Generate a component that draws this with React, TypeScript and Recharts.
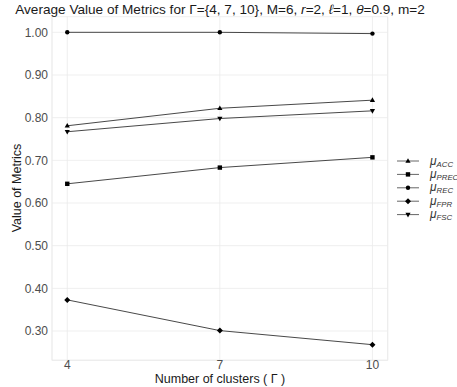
import React from 'react';
import { LineChart, Line, XAxis, YAxis, CartesianGrid, ReferenceLine } from 'recharts';

const clusters = [4, 7, 10];
const accValues = [0.781, 0.822, 0.841];
const precValues = [0.645, 0.683, 0.707];
const recValues = [1.0, 1.0, 0.997];
const fprValues = [0.373, 0.301, 0.268];
const fscValues = [0.767, 0.798, 0.816];
const yTicks = [0.3, 0.4, 0.5, 0.6, 0.7, 0.8, 0.9, 1.0];

const series = [
  { key: 'acc', label: 'ACC', shape: 'up', values: accValues },
  { key: 'prec', label: 'PREC', shape: 'square', values: precValues },
  { key: 'rec', label: 'REC', shape: 'circle', values: recValues },
  { key: 'fpr', label: 'FPR', shape: 'diamond', values: fprValues },
  { key: 'fsc', label: 'FSC', shape: 'down', values: fscValues },
];

const data = clusters.map((c, i) => {
  const row: any = { clusters: c };
  series.forEach(s => { row[s.key] = s.values[i]; });
  return row;
});

// ggplot-style 5% expansion
const allValues = series.flatMap(s => s.values);
const yMin = Math.min(...allValues);
const yMax = Math.max(...allValues);
const yPad = (yMax - yMin) * 0.05;
const yDomain = [yMin - yPad, yMax + yPad];
const xPad = (clusters[clusters.length - 1] - clusters[0]) * 0.05;
const xDomain = [clusters[0] - xPad, clusters[clusters.length - 1] + xPad];

const FONT = '"Liberation Sans", Arial, sans-serif';

function Marker({ cx, cy, shape }: { cx: number; cy: number; shape: string }) {
  if (cx == null || cy == null) return null;
  if (shape === 'up') {
    return <polygon points={`${cx},${cy - 2.8} ${cx - 2.6},${cy + 1.8} ${cx + 2.6},${cy + 1.8}`} fill="#000" />;
  }
  if (shape === 'down') {
    return <polygon points={`${cx},${cy + 2.8} ${cx - 2.6},${cy - 1.8} ${cx + 2.6},${cy - 1.8}`} fill="#000" />;
  }
  if (shape === 'square') {
    return <rect x={cx - 2.2} y={cy - 2.2} width={4.4} height={4.4} fill="#000" />;
  }
  if (shape === 'diamond') {
    return <polygon points={`${cx},${cy - 3} ${cx + 3},${cy} ${cx},${cy + 3} ${cx - 3},${cy}`} fill="#000" />;
  }
  return <circle cx={cx} cy={cy} r={2.2} fill="#000" />;
}

function LegendBox() {
  return (
    <svg width={60} height={72} style={{ display: 'block' }}>
      {series.map((s, i) => {
        const y = 7 + i * 13.4;
        return (
          <g key={s.key}>
            <line x1={0} x2={22} y1={y} y2={y} stroke="#666" strokeWidth={1} />
            <Marker cx={11} cy={y} shape={s.shape} />
            <text x={33} y={y + 3.5} fontFamily={FONT} fontStyle="italic" fill="#333">
              <tspan fontSize={12}>μ</tspan>
              <tspan fontSize={7.8} dy={2}>{s.label}</tspan>
            </text>
          </g>
        );
      })}
    </svg>
  );
}

export default function App() {
  return (
    <div style={{ position: 'absolute', left: 0, top: 0, width: 457, height: 387, background: '#fff', fontFamily: FONT }}>
      <LineChart width={457} height={387} data={data} margin={{ top: 16.7, right: 69.3, bottom: 0, left: 0 }}>
        <CartesianGrid stroke="#ebebeb" strokeWidth={0.8} />
        <ReferenceLine x={xDomain[0]} stroke="#ebebeb" strokeWidth={0.8} />
        <ReferenceLine x={xDomain[1]} stroke="#ebebeb" strokeWidth={0.8} />
        <ReferenceLine y={yDomain[0]} stroke="#ebebeb" strokeWidth={0.8} />
        <XAxis
          dataKey="clusters"
          type="number"
          domain={xDomain}
          ticks={clusters}
          height={26.7}
          axisLine={false}
          tickLine={false}
          tickSize={0}
          tickMargin={0}
          tick={{ fill: '#4d4d4d', fontSize: 12, fontFamily: FONT }}
        />
        <YAxis
          type="number"
          domain={yDomain}
          ticks={yTicks}
          width={52}
          axisLine={false}
          tickLine={false}
          tickSize={0}
          tickMargin={4}
          tickFormatter={(v: number) => v.toFixed(2)}
          tick={{ fill: '#4d4d4d', fontSize: 12, fontFamily: FONT }}
        />
        {series.map(s => (
          <Line
            key={s.key}
            dataKey={s.key}
            stroke="#333"
            strokeWidth={0.9}
            isAnimationActive={false}
            dot={(p: any) => <Marker key={`${s.key}-${p.index}`} cx={p.cx} cy={p.cy} shape={s.shape} />}
            activeDot={false}
          />
        ))}
      </LineChart>
      <div style={{ position: 'absolute', left: 0, width: 440, top: 2, textAlign: 'center', fontSize: 13.6, color: '#1a1a1a', whiteSpace: 'nowrap' }}>
        Average Value of Metrics for Γ={'{'}4, 7, 10{'}'}, M=6, <i>r</i>=2, <i>ℓ</i>=1, <i>θ</i>=0.9, m=2
      </div>
      <div style={{ position: 'absolute', left: 17, top: 188, transform: 'translate(-50%, -50%) rotate(-90deg)', fontSize: 12.5, color: '#1a1a1a', whiteSpace: 'nowrap' }}>
        Value of Metrics
      </div>
      <div style={{ position: 'absolute', left: 220, top: 379, transform: 'translate(-50%, -50%)', fontSize: 12.5, color: '#1a1a1a', whiteSpace: 'nowrap' }}>
        Number of clusters ( Γ )
      </div>
      <div style={{ position: 'absolute', left: 397, top: 154 }}>
        <LegendBox />
      </div>
    </div>
  );
}
